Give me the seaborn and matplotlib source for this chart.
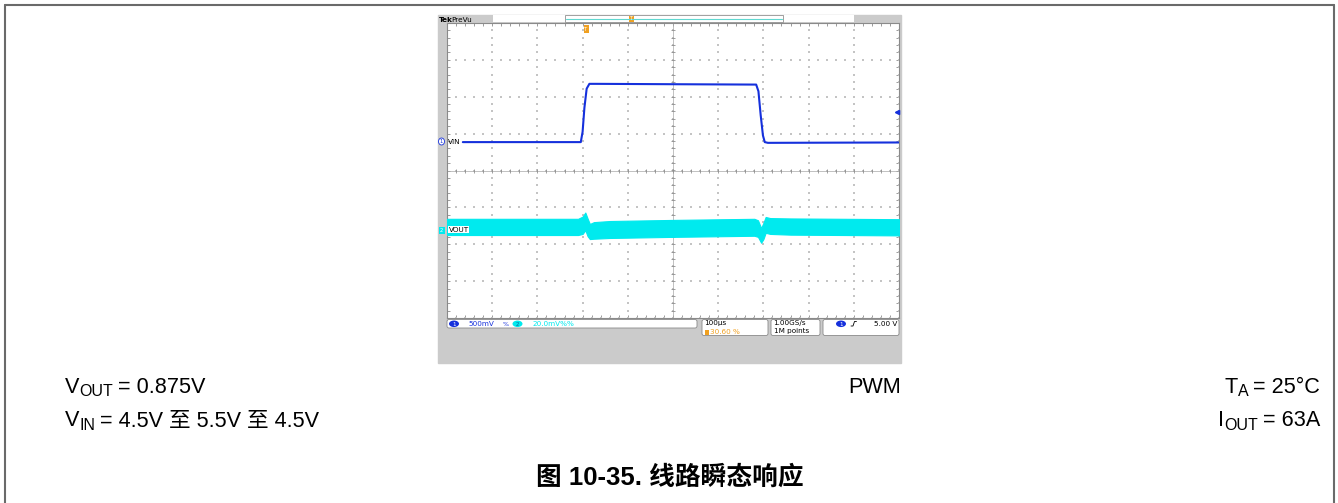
import numpy as np
import seaborn as sns
import matplotlib.pyplot as plt
from matplotlib.patches import Rectangle, FancyBboxPatch, Ellipse
from matplotlib.lines import Line2D

# ---- data (time in us, level in divisions from centre) ----
vin_t = [35, 296, 300, 304, 309, 315, 330, 500, 684, 689, 694, 699, 703, 710, 1000]
vin_v = [0.77, 0.77, 1.05, 1.70, 2.22, 2.35, 2.35, 2.34, 2.33, 2.15, 1.50, 0.95, 0.77, 0.75, 0.76]

vout_t = [0, 290, 300, 306, 311, 316, 325, 360, 500, 680, 688, 695, 700, 705, 715, 760, 1000]
vout_hi = [-1.31, -1.31, -1.25, -1.14, -1.30, -1.45, -1.40, -1.37, -1.34, -1.31, -1.35, -1.56, -1.42, -1.26, -1.29, -1.30, -1.32]
vout_lo = [-1.75, -1.75, -1.72, -1.62, -1.78, -1.86, -1.85, -1.83, -1.80, -1.77, -1.80, -1.96, -1.86, -1.69, -1.72, -1.74, -1.76]

title = "图 10-35. 线路瞬态响应"
cond_left = [("V", "OUT", "= 0.875V"), ("V", "IN", "= 4.5V 至 5.5V 至 4.5V")]
cond_right = [("T", "A", "= 25°C"), ("I", "OUT", "= 63A")]
mode_label = "PWM"

VIN_COLOR = "#1530dc"
VOUT_COLOR = "#00eaee"
ORANGE = "#f0a020"

sns.set_style("white")
FAM = ["Liberation Sans", "Noto Sans CJK SC", "DejaVu Sans"]
plt.rcParams["font.family"] = FAM
plt.rcParams["text.color"] = "black"

W, H = 1338, 503
fig = plt.figure(figsize=(W / 100, H / 100), dpi=100)


def fx(px):
    return px / W


def fy(py):
    return 1 - py / H


# scope screen background
fig.add_artist(Rectangle((fx(438), fy(363)), fx(901) - fx(438), fy(15) - fy(363),
                         transform=fig.transFigure, color="#cbcbcb", zorder=0))

ax = fig.add_axes([fx(447), fy(318), fx(899) - fx(447), fy(23) - fy(318)], zorder=1)
ax.set_facecolor("white")
ax.set_xlim(0, 1000)
ax.set_ylim(-4, 4)

# graticule: faint dotted lines at each division, centre cross with ticks
for gx in range(0, 1001, 100):
    yy = np.arange(-4, 4.01, 0.2)
    ax.scatter(np.full_like(yy, gx), yy, s=0.9, marker="s", color="#c4c4c4", lw=0, zorder=1)
for gy in range(-4, 5):
    xx = np.arange(0, 1000.1, 20)
    ax.scatter(xx, np.full_like(xx, gy), s=0.9, marker="s", color="#c4c4c4", lw=0, zorder=1)
ax.axhline(0, color="#a8a8a8", lw=0.5, zorder=1)
ax.axvline(500, color="#a8a8a8", lw=0.5, zorder=1)
ax.plot(np.arange(0, 1000.1, 20), np.zeros(51), ls="none", marker="|", ms=3.5, mew=0.6, color="#909090")
ax.plot(np.full(41, 500), np.arange(-4, 4.01, 0.2), ls="none", marker="_", ms=3.5, mew=0.6, color="#909090")

ax.set_xticks(np.arange(0, 1001, 100))
ax.set_xticks(np.arange(0, 1001, 20), minor=True)
ax.set_yticks(np.arange(-4, 5, 1))
ax.set_yticks(np.arange(-4, 4.01, 0.2), minor=True)
ax.tick_params(which="both", direction="in", length=2.2, width=0.6, color="#8a8a8a",
               top=True, right=True, bottom=True, left=True,
               labelbottom=False, labelleft=False)
for sp in ax.spines.values():
    sp.set_color("#8a8a8a")
    sp.set_linewidth(0.8)

# traces
ax.fill_between(vout_t, vout_lo, vout_hi, color=VOUT_COLOR, lw=0.8, edgecolor=VOUT_COLOR, zorder=3)
sns.lineplot(x=vin_t, y=vin_v, ax=ax, color=VIN_COLOR, linewidth=1.5, sort=False,
             estimator=None, zorder=4)
ax.set_xlabel("")
ax.set_ylabel("")

# ---- scope decorations in pixel coordinates ----
d = fig.add_axes([fx(438), fy(363), fx(901) - fx(438), fy(15) - fy(363)], zorder=2)
d.set_xlim(438, 901)
d.set_ylim(363, 15)
d.axis("off")
d.patch.set_alpha(0)

small = dict(family="DejaVu Sans", fontsize=5.2)

# top record bar
d.add_patch(Rectangle((493, 15), 361, 7, facecolor="white", edgecolor="none"))
d.add_patch(Rectangle((565, 15), 218, 7, facecolor="white", edgecolor="#909090", lw=0.6))
d.plot([566, 782], [19, 19], color="#60d8d0", lw=0.8)
d.text(438.5, 19.5, "Tek", fontweight="bold", va="center", ha="left", **small)
d.text(451, 19.5, "PreVu", va="center", ha="left", **small)
d.add_patch(Rectangle((628.5, 15.5), 5, 6, facecolor=ORANGE, edgecolor="none"))
d.text(631, 18.7, "T", color="white", ha="center", va="center", family="DejaVu Sans", fontsize=3.5)
d.add_patch(Rectangle((583.5, 25), 5, 8, facecolor=ORANGE, edgecolor="none"))
d.text(586, 29.5, "T", color="white", ha="center", va="center", family="DejaVu Sans", fontsize=3.8)
d.plot([896.5], [112], marker="<", ms=3, color=VIN_COLOR)

# channel labels
d.add_patch(Ellipse((441.5, 141.5), 6, 7, facecolor="white", edgecolor=VIN_COLOR, lw=0.6))
d.text(441.5, 141.8, "1", color=VIN_COLOR, ha="center", va="center", family="DejaVu Sans", fontsize=3.8)
d.text(448, 141.5, "VIN", color="black", ha="left", va="center", **small)
d.add_patch(Rectangle((438.5, 226.5), 6.5, 7, facecolor=VOUT_COLOR, edgecolor="none"))
d.text(441.8, 230.2, "2", color="white", ha="center", va="center", family="DejaVu Sans", fontsize=3.8)
d.add_patch(Rectangle((448, 226), 21, 7, facecolor="white", edgecolor="none"))
d.text(449, 229.8, "VOUT", color="black", ha="left", va="center", **small)

# bottom status bar
def box(x0, x1, y0, y1):
    d.add_patch(FancyBboxPatch((x0, y0), x1 - x0, y1 - y0, boxstyle="round,pad=0,rounding_size=2",
                               facecolor="white", edgecolor="#8a8a8a", lw=0.6, mutation_aspect=1))


box(447, 697, 319.5, 328)
box(702, 768, 319.5, 335.5)
box(771, 820, 319.5, 335.5)
box(823, 899, 319.5, 335.5)

d.add_patch(Ellipse((454, 323.8), 10, 6.5, facecolor=VIN_COLOR, edgecolor="none"))
d.text(454, 324, "1", color="white", ha="center", va="center", family="DejaVu Sans", fontsize=4)
d.text(468, 324, "500mV", color=VIN_COLOR, ha="left", va="center", **small)
d.text(503, 324, "%", color=VIN_COLOR, ha="left", va="center", family="DejaVu Sans", fontsize=4.5)
d.add_patch(Ellipse((517.5, 323.8), 10, 6.5, facecolor=VOUT_COLOR, edgecolor="none"))
d.text(517.5, 324, "2", color="#1060a0", ha="center", va="center", family="DejaVu Sans", fontsize=4)
d.text(532, 324, "20.0mV%%", color=VOUT_COLOR, ha="left", va="center", **small)

d.text(704.5, 323.5, "100µs", color="black", ha="left", va="center", **small)
d.add_patch(Rectangle((704.5, 329.5), 4, 5, facecolor=ORANGE, edgecolor="none"))
d.text(710, 331.8, "30.60 %", color=ORANGE, ha="left", va="center", **small)
d.text(773.5, 323.5, "1.00GS/s", color="black", ha="left", va="center", **small)
d.text(773.5, 331.5, "1M points", color="black", ha="left", va="center", **small)
d.add_patch(Ellipse((841, 323.8), 10, 6.5, facecolor=VIN_COLOR, edgecolor="none"))
d.text(841, 324, "1", color="white", ha="center", va="center", family="DejaVu Sans", fontsize=4)
d.plot([851, 853, 854.5, 856.5], [326, 326, 321.5, 321.5], color="black", lw=0.6)
d.text(897, 323.5, "5.00 V", color="black", ha="right", va="center", **small)

# ---- captions around the capture ----
renderer = fig.canvas.get_renderer()


def rich(parts, x, base, align="left"):
    # parts: (text, size, baseline shift in px, gap after in px)
    placed = []
    cur = 0.0
    for s, size, dy, gap in parts:
        t = fig.text(0, 0, s, fontsize=size, family=FAM, color="black", va="baseline", ha="left")
        w = t.get_window_extent(renderer).width
        placed.append((t, cur, dy))
        cur += w + gap
    total = cur - parts[-1][3]
    x0 = x if align == "left" else x - total
    for t, off, dy in placed:
        t.set_position((fx(x0 + off), fy(base + dy)))


bases = [393, 426.5]
for (a, sub, rest), b in zip(cond_left, bases):
    rich([(a, 15.6, 0, 0), (sub, 11.5, 3.5, 5), (rest, 15.6, 0, 0)], 65, b)
for (a, sub, rest), b in zip(cond_right, bases):
    rich([(a, 15.6, 0, 0), (sub, 11.5, 3.5, 5), (rest, 15.6, 0, 0)], 1320, b, align="right")
fig.text(fx(848), fy(393), mode_label, fontsize=15.6, family=FAM, color="black",
         va="baseline", ha="left")

fig.text(fx(670), fy(485), title, fontsize=18.5, fontweight="bold", family=FAM,
         color="black", va="baseline", ha="center")

# page frame
for xs, ys in [([5, 5], [5, 503]), ([5, 1334], [5, 5]), ([1334, 1334], [5, 503])]:
    fig.add_artist(Line2D([fx(v) for v in xs], [fy(v) for v in ys], color="#6a6a6a",
                          lw=1.5, transform=fig.transFigure))

fig.savefig("out.png", dpi=100)
